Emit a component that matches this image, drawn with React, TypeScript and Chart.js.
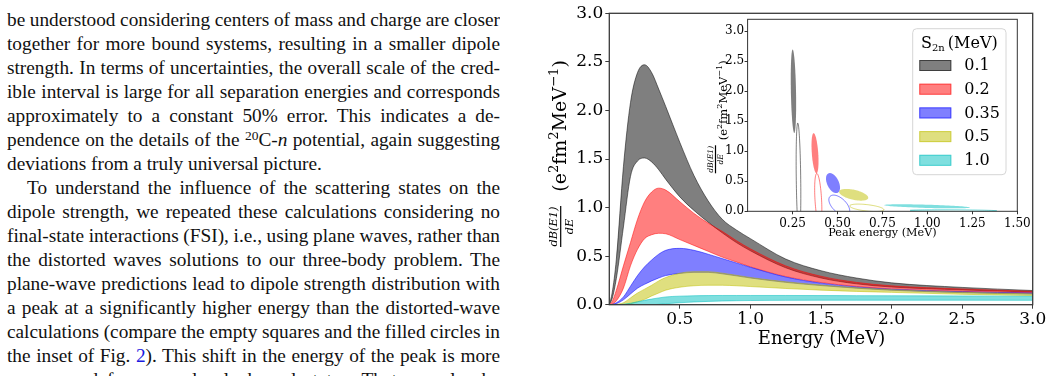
import React, { useEffect, useRef } from 'react';
import { Chart, registerables } from 'chart.js';

Chart.register(...registerables);

// ---------------- main panel: dB(E1)/dE bands ----------------
const energy = [0, 0.02, 0.05, 0.1, 0.15, 0.2, 0.25, 0.3, 0.35, 0.4, 0.5, 0.6, 0.7, 0.8, 0.9, 1.0, 1.25, 1.5, 1.75, 2.0, 2.5, 3.0];

const s2nLabels = ['0.1', '0.2', '0.35', '0.5', '1.0'];

const upperS01 = [0, 0.12, 0.47, 1.42, 2.08, 2.39, 2.47, 2.39, 2.22, 2.04, 1.67, 1.33, 1.07, 0.88, 0.77, 0.68, 0.47, 0.35, 0.275, 0.225, 0.178, 0.146];
const lowerS01 = [0, 0.06, 0.27, 0.8, 1.32, 1.48, 1.51, 1.47, 1.39, 1.29, 1.11, 0.97, 0.85, 0.74, 0.64, 0.555, 0.38, 0.275, 0.215, 0.182, 0.152, 0.13];
const upperS02 = [0, 0.03, 0.15, 0.4, 0.64, 0.88, 1.06, 1.16, 1.2, 1.18, 1.06, 0.94, 0.84, 0.755, 0.66, 0.575, 0.4, 0.293, 0.23, 0.194, 0.162, 0.138];
const lowerS02 = [0, 0.005, 0.04, 0.17, 0.4, 0.57, 0.68, 0.72, 0.735, 0.73, 0.67, 0.61, 0.55, 0.49, 0.44, 0.39, 0.29, 0.228, 0.188, 0.163, 0.137, 0.122];
const upperS035 = [0, 0.003, 0.02, 0.08, 0.19, 0.3, 0.39, 0.46, 0.52, 0.56, 0.58, 0.56, 0.52, 0.475, 0.43, 0.385, 0.285, 0.222, 0.183, 0.159, 0.134, 0.12];
const lowerS035 = [0, 0.001, 0.01, 0.05, 0.11, 0.17, 0.21, 0.245, 0.275, 0.3, 0.322, 0.333, 0.333, 0.318, 0.297, 0.275, 0.23, 0.197, 0.17, 0.149, 0.124, 0.109];
const upperS05 = [0, 0, 0.003, 0.02, 0.07, 0.12, 0.16, 0.2, 0.245, 0.28, 0.325, 0.34, 0.34, 0.325, 0.303, 0.28, 0.236, 0.202, 0.175, 0.154, 0.128, 0.112];
const lowerS05 = [0, 0, 0, 0, 0.01, 0.03, 0.055, 0.09, 0.12, 0.15, 0.18, 0.195, 0.2, 0.2, 0.195, 0.187, 0.167, 0.15, 0.137, 0.127, 0.107, 0.094];
const upperS10 = [0, 0, 0, 0.005, 0.015, 0.03, 0.045, 0.058, 0.07, 0.08, 0.088, 0.092, 0.094, 0.095, 0.095, 0.095, 0.095, 0.094, 0.093, 0.092, 0.09, 0.087];
const lowerS10 = [0, 0, 0, 0, 0, 0, 0, 0, 0.004, 0.01, 0.02, 0.028, 0.034, 0.038, 0.041, 0.043, 0.045, 0.046, 0.046, 0.046, 0.046, 0.045];

const bandUpper = [upperS01, upperS02, upperS035, upperS05, upperS10];
const bandLower = [lowerS01, lowerS02, lowerS035, lowerS05, lowerS10];
const bandRGB = ['0,0,0', '255,0,0', '0,0,255', '191,191,0', '0,191,191'];

const mainXTicks = [0.5, 1.0, 1.5, 2.0, 2.5, 3.0];
const mainYTicks = [0.0, 0.5, 1.0, 1.5, 2.0, 2.5, 3.0];

// ---------------- inset: peak energy vs peak height ----------------
// filled ellipses (with final-state interactions)
const fsiPeakE = [0.255, 0.375, 0.475, 0.59, 0.998];
const fsiPeakH = [2.0, 0.968, 0.47, 0.275, 0.083];
const fsiSpreadE = [0.015, 0.0195, 0.039, 0.081, 0.239];
const fsiSpreadH = [0.696, 0.334, 0.167, 0.098, 0.034];
const fsiCorr = [-0.3, -0.4, -0.45, -0.5, -0.6];
// empty ellipses (plane waves)
const pwPeakE = [0.283, 0.393, 0.51, 0.663, 1.145];
const pwPeakH = [0.55, 0.2, 0.1, 0.058, 0.012];
const pwSpreadE = [0.013, 0.02, 0.058, 0.095, 0.241];
const pwSpreadH = [0.92, 0.43, 0.17, 0.062, 0.014];
const pwCorr = [-0.3, -0.4, -0.55, -0.5, -0.3];

const insetXTicks = [0.25, 0.5, 0.75, 1.0, 1.25, 1.5];
const insetYTicks = [0.0, 0.5, 1.0, 1.5, 2.0, 2.5, 3.0];

const SERIF = '"DejaVu Serif", serif';

type Piece = { t: string; sup?: boolean };
const unitPieces: Piece[] = [
  { t: '(' }, { t: 'e' }, { t: '2', sup: true }, { t: 'fm' }, { t: '2', sup: true },
  { t: 'MeV' }, { t: '\u22121', sup: true }, { t: ')' },
];

function drawYTitle(
  ctx: CanvasRenderingContext2D,
  o: { barX: number; startY: number; barLen: number; numBase: number; denBase: number; gap: number; labelLen: number; labelBase: number }
) {
  ctx.save();
  ctx.translate(o.barX, o.startY);
  ctx.rotate(-Math.PI / 2);
  ctx.fillStyle = '#000';
  // fraction
  ctx.font = `italic 10px ${SERIF}`;
  const wNum = ctx.measureText('dB(E1)').width;
  const fs = (10 * (o.barLen - 1)) / wNum;
  ctx.font = `italic ${fs}px ${SERIF}`;
  ctx.textAlign = 'center';
  ctx.textBaseline = 'alphabetic';
  ctx.fillText('dB(E1)', o.barLen / 2, o.numBase);
  ctx.fillText('dE', o.barLen / 2, o.denBase);
  ctx.fillRect(0, -0.6, o.barLen, 1.2);
  // units
  const measure = (size: number) => {
    let w = 0;
    for (const p of unitPieces) {
      ctx.font = `${p.sup ? size * 0.7 : size}px ${SERIF}`;
      w += ctx.measureText(p.t).width;
    }
    return w;
  };
  const size = (10 * o.labelLen) / measure(10);
  let x = o.barLen + o.gap;
  ctx.textAlign = 'left';
  for (const p of unitPieces) {
    const s = p.sup ? size * 0.7 : size;
    ctx.font = `${s}px ${SERIF}`;
    ctx.fillText(p.t, x, o.labelBase - (p.sup ? size * 0.42 : 0));
    x += ctx.measureText(p.t).width;
  }
  ctx.restore();
}

function fixAxisPadding(s: any) {
  s.paddingTop = 0;
  s.paddingBottom = 0;
  s.paddingLeft = 0;
  s.paddingRight = 0;
}

function MainChart() {
  const ref = useRef<HTMLCanvasElement | null>(null);
  useEffect(() => {
    if (!ref.current) return;
    const datasets: any[] = [];
    bandUpper.forEach((up, i) => {
      const rgba = `rgba(${bandRGB[i]},0.5)`;
      const common = {
        borderColor: rgba,
        borderWidth: 1,
        pointRadius: 0,
        cubicInterpolationMode: 'monotone',
        order: 10 - i,
      };
      datasets.push({
        ...common,
        label: `S2n ${s2nLabels[i]} lower`,
        data: energy.map((e, j) => ({ x: e, y: bandLower[i][j] })),
        fill: false,
      });
      datasets.push({
        ...common,
        label: `S2n ${s2nLabels[i]}`,
        data: energy.map((e, j) => ({ x: e, y: up[j] })),
        fill: '-1',
        backgroundColor: rgba,
      });
    });

    const framePlugin = {
      id: 'mainFrame',
      afterDraw(chart: any) {
        const { ctx, chartArea: a } = chart;
        ctx.save();
        ctx.strokeStyle = '#3a3a3a';
        ctx.lineWidth = 1.3;
        ctx.strokeRect(a.left, a.top, a.right - a.left, a.bottom - a.top);
        // x title
        ctx.fillStyle = '#000';
        ctx.font = `18px ${SERIF}`;
        ctx.textAlign = 'center';
        ctx.textBaseline = 'middle';
        ctx.fillText('Energy (MeV)', (a.left + a.right) / 2 + 0.5, 339);
        ctx.restore();
        drawYTitle(ctx, {
          barX: 20.7, startY: 247, barLen: 41, numBase: -3.6, denBase: 12.2,
          gap: 14.3, labelLen: 131.7, labelBase: 5.3,
        });
      },
    };

    const chart = new Chart(ref.current, {
      type: 'line',
      data: { datasets },
      options: {
        animation: false,
        responsive: false,
        maintainAspectRatio: false,
        layout: { padding: { left: 0, right: 20.3, top: 13.3, bottom: 0 } },
        plugins: { legend: { display: false }, tooltip: { enabled: false }, title: { display: false } },
        elements: { line: { tension: 0 } },
        scales: {
          x: {
            type: 'linear',
            min: 0,
            max: 3,
            afterBuildTicks: (s: any) => { s.ticks = mainXTicks.map((v) => ({ value: v })); },
            afterFit: (s: any) => { s.height = 376 - 304.7; fixAxisPadding(s); },
            ticks: {
              callback: (v: any) => Number(v).toFixed(1),
              font: { family: SERIF, size: 17 },
              color: '#000',
              padding: 0.5,
              maxRotation: 0,
              autoSkip: false,
            },
            grid: { drawOnChartArea: false, tickLength: 4, color: '#3a3a3a', lineWidth: 1 },
            border: { display: false },
          },
          y: {
            type: 'linear',
            min: 0,
            max: 3,
            afterBuildTicks: (s: any) => { s.ticks = mainYTicks.map((v) => ({ value: v })); },
            afterFit: (s: any) => { s.width = 69.3; fixAxisPadding(s); },
            ticks: {
              callback: (v: any) => Number(v).toFixed(1),
              font: { family: SERIF, size: 17 },
              color: '#000',
              padding: 2,
              autoSkip: false,
            },
            grid: { drawOnChartArea: false, tickLength: 4, color: '#3a3a3a', lineWidth: 1 },
            border: { display: false },
          },
        },
      },
      plugins: [framePlugin],
    } as any);
    return () => chart.destroy();
  }, []);
  return (
    <canvas
      ref={ref}
      width={513}
      height={376}
      style={{ position: 'absolute', left: 540, top: 0, width: 513, height: 376, display: 'block' }}
    />
  );
}

function traceEllipse(ctx: CanvasRenderingContext2D, xs: any, ys: any, cx: number, cy: number, sx: number, sy: number, rho: number) {
  const steps = 90;
  const k = Math.sqrt(1 - rho * rho);
  ctx.beginPath();
  for (let i = 0; i <= steps; i++) {
    const t = (i / steps) * 2 * Math.PI;
    const e = cx + sx * Math.cos(t);
    const v = cy + sy * (rho * Math.cos(t) + k * Math.sin(t));
    const px = xs.getPixelForValue(e);
    const py = ys.getPixelForValue(v);
    if (i === 0) ctx.moveTo(px, py);
    else ctx.lineTo(px, py);
  }
  ctx.closePath();
}

function InsetChart() {
  const ref = useRef<HTMLCanvasElement | null>(null);
  useEffect(() => {
    if (!ref.current) return;
    const insetPlugin = {
      id: 'insetDraw',
      beforeDraw(chart: any) {
        const { ctx, chartArea: a } = chart;
        ctx.save();
        ctx.fillStyle = '#fff';
        ctx.fillRect(a.left, a.top, a.right - a.left, a.bottom - a.top);
        ctx.restore();
      },
      afterDatasetsDraw(chart: any) {
        const { ctx, chartArea: a, scales } = chart;
        ctx.save();
        ctx.beginPath();
        ctx.rect(a.left, a.top, a.right - a.left, a.bottom - a.top);
        ctx.clip();
        for (let i = 0; i < fsiPeakE.length; i++) {
          traceEllipse(ctx, scales.x, scales.y, fsiPeakE[i], fsiPeakH[i], fsiSpreadE[i], fsiSpreadH[i], fsiCorr[i]);
          ctx.fillStyle = `rgba(${bandRGB[i]},0.5)`;
          ctx.fill();
          traceEllipse(ctx, scales.x, scales.y, pwPeakE[i], pwPeakH[i], pwSpreadE[i], pwSpreadH[i], pwCorr[i]);
          ctx.strokeStyle = `rgba(${bandRGB[i]},0.5)`;
          ctx.lineWidth = 1;
          ctx.stroke();
        }
        ctx.restore();
      },
      afterDraw(chart: any) {
        const { ctx, chartArea: a } = chart;
        ctx.save();
        ctx.strokeStyle = '#333';
        ctx.lineWidth = 1;
        ctx.strokeRect(a.left, a.top, a.right - a.left, a.bottom - a.top);
        ctx.fillStyle = '#000';
        ctx.font = `11.2px ${SERIF}`;
        ctx.textAlign = 'center';
        ctx.textBaseline = 'middle';
        ctx.fillText('Peak energy (MeV)', (a.left + a.right) / 2, 222.8);

        // legend
        const lx = 212.7, ly = 18.7, lw = 93.3, lh = 146;
        ctx.beginPath();
        (ctx as any).roundRect(lx, ly, lw, lh, 4);
        ctx.fillStyle = 'rgba(255,255,255,0.85)';
        ctx.fill();
        ctx.strokeStyle = '#d6d6d6';
        ctx.lineWidth = 1;
        ctx.stroke();
        ctx.fillStyle = '#000';
        ctx.textAlign = 'left';
        ctx.textBaseline = 'alphabetic';
        ctx.font = `16px ${SERIF}`;
        ctx.fillText('S', 221, 37.6);
        const sW = ctx.measureText('S').width;
        ctx.font = `10px ${SERIF}`;
        ctx.fillText('2n', 221 + sW, 41.3);
        ctx.font = `16px ${SERIF}`;
        ctx.fillText('(MeV)', 247.8, 37.6);
        s2nLabels.forEach((lab, i) => {
          const cy = 55.5 + i * 23.7;
          const rgba = `rgba(${bandRGB[i]},0.5)`;
          ctx.fillStyle = rgba;
          ctx.fillRect(219.3, cy - 5.5, 32, 11);
          ctx.strokeStyle = rgba;
          ctx.lineWidth = 1;
          ctx.strokeRect(219.8, cy - 5, 31, 10);
          ctx.fillStyle = '#000';
          ctx.font = `16px ${SERIF}`;
          ctx.textBaseline = 'middle';
          ctx.fillText(lab, 264.3, cy + 0.5);
        });
        ctx.restore();
        drawYTitle(ctx, {
          barX: 15.5, startY: 163.3, barLen: 28, numBase: -2.4, denBase: 7.6,
          gap: 5, labelLen: 80, labelBase: 11,
        });
      },
    };

    const chart = new Chart(ref.current, {
      type: 'scatter',
      data: {
        datasets: [
          { label: 'FSI', data: fsiPeakE.map((e, i) => ({ x: e, y: fsiPeakH[i] })), pointRadius: 0 },
          { label: 'PW', data: pwPeakE.map((e, i) => ({ x: e, y: pwPeakH[i] })), pointRadius: 0 },
        ],
      },
      options: {
        animation: false,
        responsive: false,
        maintainAspectRatio: false,
        layout: { padding: { left: 0, right: 12.7, top: 9.3, bottom: 0 } },
        plugins: { legend: { display: false }, tooltip: { enabled: false } },
        scales: {
          x: {
            type: 'linear',
            min: 0,
            max: 1.5,
            afterBuildTicks: (s: any) => { s.ticks = insetXTicks.map((v) => ({ value: v })); },
            afterFit: (s: any) => { s.height = 240 - 201.3; fixAxisPadding(s); },
            ticks: {
              callback: (v: any) => Number(v).toFixed(2),
              font: { family: SERIF, size: 12 },
              color: '#000',
              padding: 2,
              maxRotation: 0,
              autoSkip: false,
            },
            grid: { drawOnChartArea: false, tickLength: 3, color: '#333', lineWidth: 1 },
            border: { display: false },
          },
          y: {
            type: 'linear',
            min: 0,
            max: 3.2,
            afterBuildTicks: (s: any) => { s.ticks = insetYTicks.map((v) => ({ value: v })); },
            afterFit: (s: any) => { s.width = 47.6; fixAxisPadding(s); },
            ticks: {
              callback: (v: any) => Number(v).toFixed(1),
              font: { family: SERIF, size: 12 },
              color: '#000',
              padding: 0.5,
              autoSkip: false,
            },
            grid: { drawOnChartArea: false, tickLength: 3, color: '#333', lineWidth: 1 },
            border: { display: false },
          },
        },
      },
      plugins: [insetPlugin],
    } as any);
    return () => chart.destroy();
  }, []);
  return (
    <canvas
      ref={ref}
      width={330}
      height={240}
      style={{ position: 'absolute', left: 700, top: 10, width: 330, height: 240, display: 'block' }}
    />
  );
}

const lineStyle: React.CSSProperties = {
  height: 24,
  textAlign: 'justify',
  textAlignLast: 'justify' as any,
  whiteSpace: 'normal',
  overflow: 'hidden',
};

function TextColumn() {
  const L = (content: React.ReactNode, extra: React.CSSProperties = {}) => (
    <div style={{ ...lineStyle, ...extra }}>{content}</div>
  );
  return (
    <div
      style={{
        position: 'absolute',
        left: 7,
        top: 7.5,
        width: 493,
        fontFamily: '"Liberation Serif", "Times New Roman", serif',
        fontSize: 19.3,
        lineHeight: '24px',
        color: '#111',
        wordSpacing: '-3px',
      }}
    >
      {L('be understood considering centers of mass and charge are closer')}
      {L('together for more bound systems, resulting in a smaller dipole')}
      {L('strength. In terms of uncertainties, the overall scale of the cred-')}
      {L('ible interval is large for all separation energies and corresponds')}
      {L('approximately to a constant 50% error. This indicates a de-')}
      {L(
        <>
          pendence on the details of the{' '}
          <span style={{ fontSize: '0.7em', verticalAlign: '0.45em', lineHeight: 0 }}>20</span>C-<i>n</i> potential, again suggesting
        </>
      )}
      {L('deviations from a truly universal picture.', { textAlignLast: 'left' as any, wordSpacing: '0px' })}
      {L('To understand the influence of the scattering states on the', { textIndent: 20 })}
      {L('dipole strength, we repeated these calculations considering no')}
      {L('final-state interactions (FSI), i.e., using plane waves, rather than')}
      {L('the distorted waves solutions to our three-body problem. The')}
      {L('plane-wave predictions lead to dipole strength distribution with')}
      {L('a peak at a significantly higher energy than the distorted-wave')}
      {L('calculations (compare the empty squares and the filled circles in')}
      {L(
        <>
          the inset of Fig. <span style={{ color: '#1a1ae0' }}>2</span>). This shift in the energy of the peak is more
        </>
      )}
      {L('pronounced for more deeply bound states. That can also be')}
    </div>
  );
}

export default function App() {
  return (
    <div
      style={{
        position: 'fixed',
        left: 0,
        top: 0,
        width: 1053,
        height: 376,
        overflow: 'hidden',
        background: '#fff',
      }}
    >
      <TextColumn />
      <MainChart />
      <InsetChart />
    </div>
  );
}
